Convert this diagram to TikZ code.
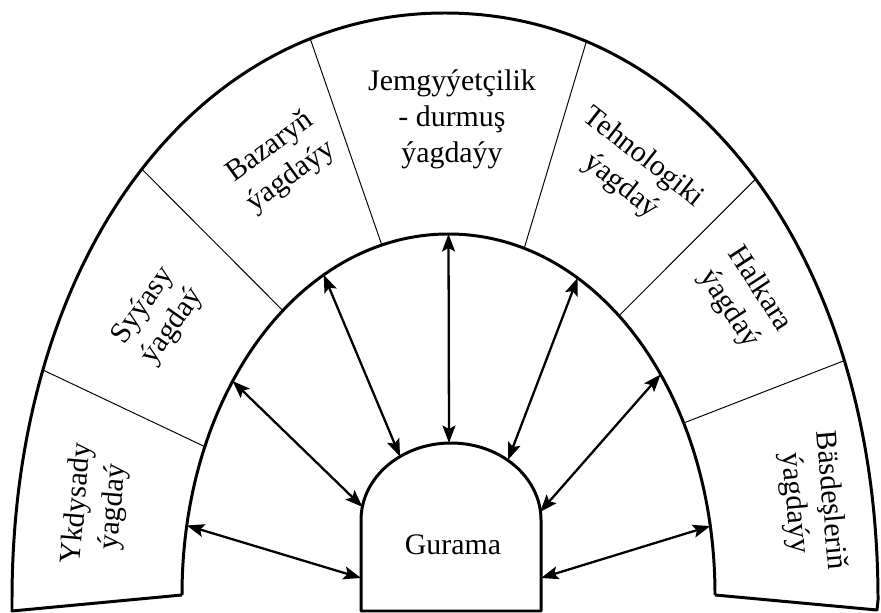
\documentclass[tikz,border=0pt]{standalone}
\usepackage{fontspec}
\setmainfont{Liberation Serif}
\usepackage{tikz}
\usetikzlibrary{arrows.meta}
\tikzstyle{myarc} = [line width=1.7pt, line join=round]
\tikzstyle{mysep} = [line width=0.55pt]
\tikzstyle{myarrow} = [line width=1.3pt, {Stealth[length=3.5mm, width=2.6mm, inset=0.7mm]}-{Stealth[length=3.5mm, width=2.6mm, inset=0.7mm]}]
\tikzstyle{mylabel} = [align=center, inner sep=0pt, font=\fontsize{17}{20.5}\selectfont]

\begin{document}
\begin{tikzpicture}[x=0.02cm, y=0.02cm]
        \useasboundingbox (0,0) rectangle (881,612);

        % Outer arc
        \draw[myarc] (182,17) -- (12,1) -- (12,12)
            .. controls (12,352) and (194,599) .. (445,599)
            coordinate[pos=0.244] (o_1) coordinate[pos=0.516] (o_2) coordinate[pos=0.81] (o_3)
            .. controls (696,599) and (878,352) .. (878,12)
            coordinate[pos=0.2] (o_4) coordinate[pos=0.5] (o_5) coordinate[pos=0.745] (o_6)
            -- (877,2) -- (715,17);

        % Inner arc
        \draw[myarc] (182,17)
            .. controls (182,219) and (299.5,378) .. (448.5,378)
            coordinate[pos=0.118] (a_1) coordinate[pos=0.263] (i_1) coordinate[pos=0.399] (a_2)
            coordinate[pos=0.577] (i_2) coordinate[pos=0.696] (a_3) coordinate[pos=0.845] (i_3)
            coordinate[pos=1] (a_4)
            .. controls (597.5,378) and (715,219) .. (715,17)
            coordinate[pos=0.177] (i_4) coordinate[pos=0.316] (a_5) coordinate[pos=0.438] (i_5)
            coordinate[pos=0.586] (a_6) coordinate[pos=0.69] (i_6) coordinate[pos=0.883] (a_7);

        % Gurama
        \draw[myarc] (361,1) -- (361,92) arc[start angle=180, end angle=0, x radius=90, y radius=77] -- (541,1) -- cycle;
        \node[mylabel] (g_0) at (453,67) {Gurama};
        \coordinate (g_1) at (361,34);
        \coordinate (g_2) at (362.5,105);
        \coordinate (g_3) at (400,155.5);
        \coordinate (g_4) at (449,169);
        \coordinate (g_5) at (508,152);
        \coordinate (g_6) at (540,100);
        \coordinate (g_7) at (541,34);

        % Dividers
        \draw[mysep] (o_1) -- (i_1);
        \draw[mysep] (o_2) -- (i_2);
        \draw[mysep] (o_3) -- (i_3);
        \draw[mysep] (o_4) -- (i_4);
        \draw[mysep] (o_5) -- (i_5);
        \draw[mysep] (o_6) -- (i_6);

        % Arrows
        \draw[myarrow] (a_1) -- (g_1);
        \draw[myarrow] (a_2) -- (g_2);
        \draw[myarrow] (a_3) -- (g_3);
        \draw[myarrow] (a_4) -- (g_4);
        \draw[myarrow] (a_5) -- (g_5);
        \draw[myarrow] (a_6) -- (g_6);
        \draw[myarrow] (a_7) -- (g_7);

        % Sectors
        \node[mylabel, rotate=85] (s_1) at (96,107) {Ykdysady\\ýagdaý};
        \node[mylabel, rotate=55] (s_2) at (158,296) {Syýasy\\ýagdaý};
        \node[mylabel, rotate=36] (s_3) at (281,450) {Bazaryň\\ýagdaýy};
        \node[mylabel] (s_4) at (452,493) {Jemgyýetçilik\\- durmuş\\ýagdaýy};
        \node[mylabel, rotate=-38] (s_5) at (632,440) {Tehnologiki\\ýagdaý};
        \node[mylabel, rotate=-57] (s_6) at (744,313) {Halkara\\ýagdaý};
        \node[mylabel, rotate=-85] (s_7) at (812,110) {Bäsdeşleriň\\ýagdaýy};
\end{tikzpicture}
\end{document}
